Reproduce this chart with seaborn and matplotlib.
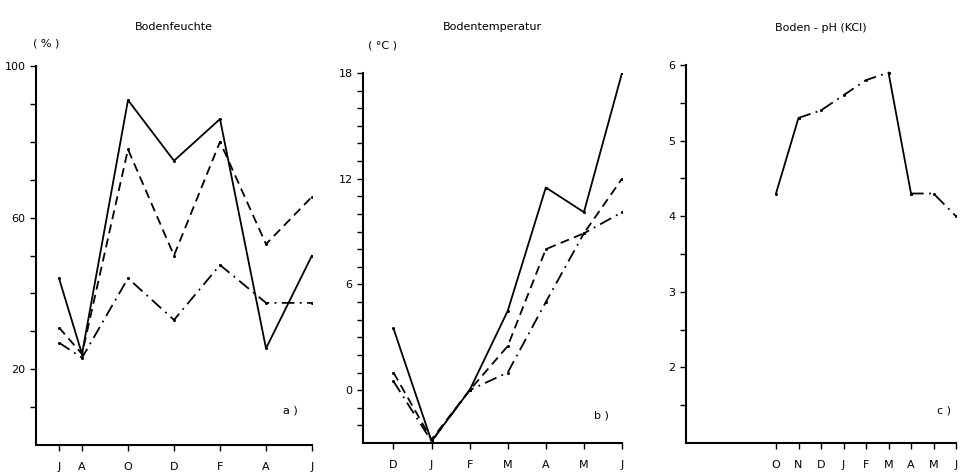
import matplotlib
matplotlib.use("Agg")
import matplotlib.pyplot as plt
import seaborn as sns
import numpy as np

sns.set_theme(style="ticks")
plt.rcParams['font.family'] = ['DejaVu Sans']
plt.rcParams['text.color'] = 'black'
plt.rcParams['axes.labelcolor'] = 'black'

# ---- Data ----
# Panel a: Bodenfeuchte (%)
months_a = ["J", "A", "O", "D", "F", "A", "J"]
pos_a = [0, 1, 3, 5, 7, 9, 11]          # month index from July
moist_solid = [44, 24, 91, 75, 86, 25.5, 50]
moist_dash = [31, 24, 78, 50, 80, 53, 65.5]
moist_dashdot = [27, 23, 44, 33, 47.5, 37.5, 37.5]

# Panel b: Bodentemperatur (°C)
months_b = ["D", "J", "F", "M", "A", "M", "J"]
pos_b = [0, 1, 2, 3, 4, 5, 6]
temp_solid = [3.5, -2.9, 0.0, 4.5, 11.5, 10.1, 18.0]
temp_dash = [1.0, -2.8, 0.0, 2.5, 8.0, 8.9, 12.0]
temp_dashdot = [0.5, -2.9, 0.0, 1.0, 5.0, 8.9, 10.1]

# Panel c: Boden-pH (KCl)
months_c = ["O", "N", "D", "J", "F", "M", "A", "M", "J"]
pos_c = [0, 1, 2, 3, 4, 5, 6, 7, 8]
ph = [4.3, 5.3, 5.4, 5.6, 5.8, 5.9, 4.3, 4.3, 4.0]

W, H = 967, 474
fig = plt.figure(figsize=(W / 100, H / 100), dpi=100)

def px_axes(left, right, top, bottom):
    return fig.add_axes([left / W, 1 - bottom / H, (right - left) / W, (bottom - top) / H])

ax_a = px_axes(36, 312, 66, 445)
ax_b = px_axes(363, 622, 73, 443)
ax_c = px_axes(686, 956, 65, 443)

LW = 1.3
DASH = (5, 3)
DASHDOT = (7, 3, 1, 3)

def style_axes(ax):
    for s in ["top", "right"]:
        ax.spines[s].set_visible(False)
    for s in ["left", "bottom"]:
        ax.spines[s].set_linewidth(1.5)
        ax.spines[s].set_color("black")
    ax.tick_params(axis="both", which="both", direction="out", color="black",
                   labelsize=8, labelcolor="black", width=1.0,
                   bottom=True, left=True, top=False, right=False)
    ax.tick_params(axis="both", which="major", length=4)
    ax.tick_params(axis="y", which="minor", length=4, width=1.0)
    ax.tick_params(axis="x", which="minor", bottom=False)
    ax.tick_params(axis="x", pad=8)
    ax.set_xlabel("")
    ax.set_ylabel("")
    ax.grid(False)
    ax.set_facecolor("white")

def draw(ax, x, y, ls):
    line_kw = dict(color="black", linewidth=LW, marker="o", markersize=2.2,
                   markeredgewidth=0)
    if ls == "solid":
        sns.lineplot(x=x, y=y, ax=ax, linestyle="-", **line_kw)
    else:
        pattern = DASH if ls == "dash" else DASHDOT
        sns.lineplot(x=x, y=y, ax=ax, dashes=pattern, **line_kw)

# Panel a
draw(ax_a, pos_a, moist_solid, "solid")
draw(ax_a, pos_a, moist_dash, "dash")
draw(ax_a, pos_a, moist_dashdot, "dashdot")
ax_a.set_xlim(-1, 11)
ax_a.set_ylim(0, 100)
ax_a.set_xticks(pos_a)
ax_a.set_xticklabels(months_a)
ax_a.set_yticks([20, 60, 100])
ax_a.set_yticks([10, 30, 40, 50, 70, 80, 90], minor=True)
style_axes(ax_a)
ax_a.set_title("Bodenfeuchte", fontsize=8, pad=0, y=1.095, color="black")
ax_a.text(-0.01, 1.06, "( % )", transform=ax_a.transAxes, fontsize=8, ha="left", va="center")
ax_a.text(0.92, 0.09, "a )", transform=ax_a.transAxes, fontsize=8, ha="center", va="center")

# Panel b
draw(ax_b, pos_b, temp_solid, "solid")
draw(ax_b, pos_b, temp_dash, "dash")
draw(ax_b, pos_b, temp_dashdot, "dashdot")
ax_b.set_xlim(-0.8, 6)
ax_b.set_ylim(-3, 18)
ax_b.set_xticks(pos_b)
ax_b.set_xticklabels(months_b)
ax_b.set_yticks([0, 6, 12, 18])
ax_b.set_yticks([v for v in range(-2, 18) if v % 6 != 0], minor=True)
style_axes(ax_b)
ax_b.set_title("Bodentemperatur", fontsize=8, pad=0, y=1.115, color="black")
ax_b.text(0.02, 1.075, "( °C )", transform=ax_b.transAxes, fontsize=8, ha="left", va="center")
ax_b.text(0.92, 0.075, "b )", transform=ax_b.transAxes, fontsize=8, ha="center", va="center")

# Panel c (mixed line styles: solid and dash-dot segments)
draw(ax_c, pos_c[0:2], ph[0:2], "solid")
draw(ax_c, pos_c[1:6], ph[1:6], "dashdot")
draw(ax_c, pos_c[5:7], ph[5:7], "solid")
draw(ax_c, pos_c[6:9], ph[6:9], "dashdot")
ax_c.set_xlim(-4, 8)
ax_c.set_ylim(1, 6)
ax_c.set_xticks(pos_c)
ax_c.set_xticklabels(months_c)
ax_c.set_yticks([2, 3, 4, 5, 6])
ax_c.set_yticks([1.5, 2.5, 3.5, 4.5, 5.5], minor=True)
style_axes(ax_c)
ax_c.set_title("Boden - pH (KCl)", fontsize=8, pad=0, y=1.09, color="black")
ax_c.text(0.955, 0.085, "c )", transform=ax_c.transAxes, fontsize=8, ha="center", va="center")

fig.savefig("out.png", dpi=100, facecolor="white")
